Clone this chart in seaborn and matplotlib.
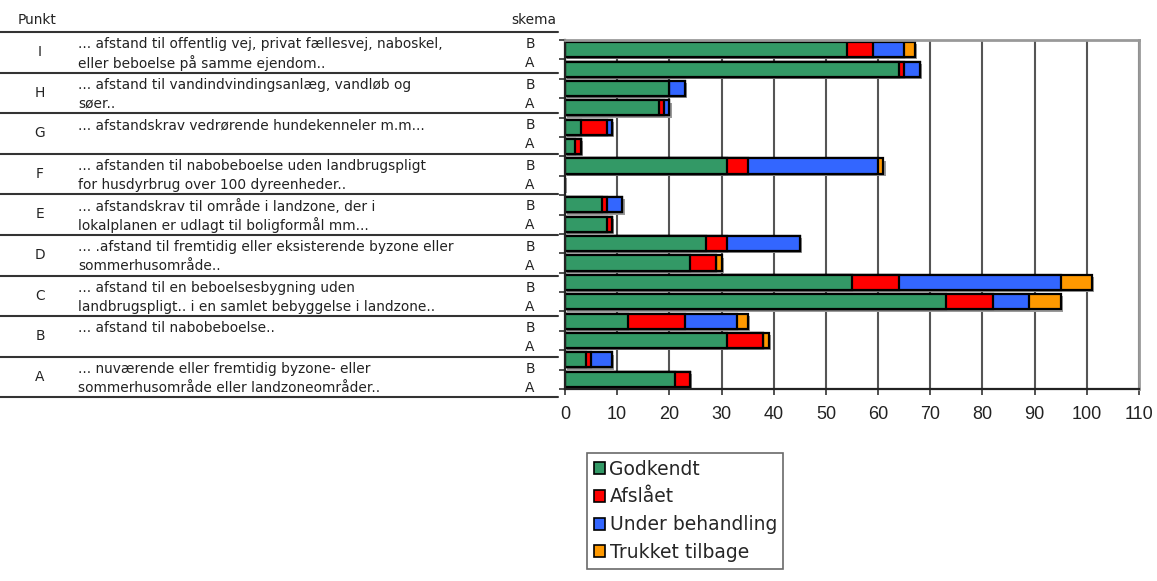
import numpy as np
import pandas as pd
import seaborn as sns
import matplotlib.pyplot as plt
import matplotlib.patheffects as pe
from matplotlib.patches import Patch

# data (bars top to bottom: I-B, I-A, H-B, H-A, ...)
punkt = ["I", "H", "G", "F", "E", "D", "C", "B", "A"]
skema = ["B", "A"]
tekst1 = [
    "... afstand til offentlig vej, privat fællesvej, naboskel,",
    "... afstand til vandindvindingsanlæg, vandløb og",
    "... afstandskrav vedrørende hundekenneler m.m...",
    "... afstanden til nabobeboelse uden landbrugspligt",
    "... afstandskrav til område i landzone, der i",
    "... .afstand til fremtidig eller eksisterende byzone eller",
    "... afstand til en beboelsesbygning uden",
    "... afstand til nabobeboelse..",
    "... nuværende eller fremtidig byzone- eller",
]
tekst2 = [
    "eller beboelse på samme ejendom..",
    "søer..",
    "",
    "for husdyrbrug over 100 dyreenheder..",
    "lokalplanen er udlagt til boligformål mm...",
    "sommerhusområde..",
    "landbrugspligt.. i en samlet bebyggelse i landzone..",
    "",
    "sommerhusområde eller landzoneområder..",
]
godkendt = [54, 64, 20, 18, 3, 2, 31, 0, 7, 8, 27, 24, 55, 73, 12, 31, 4, 21]
afslaaet = [5, 1, 0, 1, 5, 1, 4, 0, 1, 1, 4, 5, 9, 9, 11, 7, 1, 3]
under_beh = [6, 3, 3, 1, 1, 0, 25, 0, 3, 0, 14, 0, 31, 7, 10, 0, 4, 0]
trukket = [2, 0, 0, 0, 0, 0, 1, 0, 0, 0, 0, 1, 6, 6, 2, 1, 0, 0]
x_ticks = [0, 10, 20, 30, 40, 50, 60, 70, 80, 90, 100, 110]
status = ["Godkendt", "Afslået", "Under behandling", "Trukket tilbage"]
farver = ["#339966", "#ff0000", "#3366ff", "#ff9900"]

sns.set_theme(style="white")
plt.rcParams["font.family"] = ["DejaVu Sans"]

rows = [f"{p} {s}" for p in punkt for s in skema]
df = pd.DataFrame({"row": rows, "Godkendt": godkendt, "Afslået": afslaaet,
                   "Under behandling": under_beh, "Trukket tilbage": trukket})
cum = df[status].cumsum(axis=1)

fig = plt.figure(figsize=(11.57, 5.81), dpi=100)
ax = fig.add_axes([565 / 1157, 1 - 389 / 581, 574 / 1157, 349 / 581])

# stacked bars: draw the longest cumulative first, then overlay shorter ones
for i in range(len(status) - 1, -1, -1):
    n_before = len(ax.patches)
    sns.barplot(x=cum[status[i]], y=df["row"], order=rows, orient="h",
                color=farver[i], saturation=1, edgecolor="black",
                linewidth=1.6, width=0.78, ax=ax)
    if i == len(status) - 1:
        for p in ax.patches[n_before:]:
            p.set_path_effects([pe.SimplePatchShadow(offset=(1.6, -1.6), shadow_rgbFace="#9a9a9a", alpha=1),
                                pe.Normal()])

ax.set_xlim(0, 110)
ax.set_ylim(len(rows) - 0.5, -0.5)
ax.set_xticks(x_ticks, labels=[str(v) for v in x_ticks],
              fontfamily="Liberation Sans", fontsize=13, color="#222222")
ax.set_yticks(np.arange(-0.5, len(rows), 1))
ax.set_yticklabels([])
ax.set_xlabel("")
ax.set_ylabel("")
ax.set_axisbelow(True)
ax.xaxis.grid(True, color="#555555", linewidth=1.5)
ax.tick_params(axis="x", direction="out", length=4, width=1.2, color="#333333", pad=8, bottom=True)
ax.tick_params(axis="y", direction="out", length=4, width=1.2, color="#333333", left=True)
for s in ["left", "bottom"]:
    ax.spines[s].set_color("#222222")
    ax.spines[s].set_linewidth(1.6)
for s in ["top", "right"]:
    ax.spines[s].set_color("#999999")
    ax.spines[s].set_linewidth(2)

# table on the left, in pixel coordinates
tab = fig.add_axes([0, 0, 1, 1], zorder=-1)
tab.set_xlim(0, 1157)
tab.set_ylim(581, 0)
tab.axis("off")
fs = 9.9
tc = "#222222"
tab.text(18, 20, "Punkt", fontsize=fs, va="center", ha="left", color=tc)
tab.text(556, 20, "skema", fontsize=fs, va="center", ha="right", color=tc)
row_h = 40.6
top0 = 32
for k in range(len(punkt) + 1):
    tab.plot([0, 558], [top0 + k * row_h] * 2, color="#333333", lw=1.5)
for k, p in enumerate(punkt):
    y0 = top0 + k * row_h
    tab.text(40, y0 + 20, p, fontsize=fs, va="center", ha="center", color=tc)
    tab.text(78, y0 + 12, tekst1[k], fontsize=fs, va="center", ha="left", color=tc)
    tab.text(78, y0 + 31, tekst2[k], fontsize=fs, va="center", ha="left", color=tc)
    tab.text(530, y0 + 12, skema[0], fontsize=fs, va="center", ha="center", color=tc)
    tab.text(530, y0 + 31, skema[1], fontsize=fs, va="center", ha="center", color=tc)

handles = [Patch(facecolor=c, edgecolor="black", linewidth=1.2) for c in farver]
leg = fig.legend(handles, status, loc="upper left", bbox_to_anchor=(587 / 1157, 1 - 453 / 581),
                 fontsize=13.5, frameon=True, fancybox=False, edgecolor="#444444",
                 handlelength=0.6, handleheight=0.6, handletextpad=0.25,
                 labelspacing=0.47, borderpad=0.35, borderaxespad=0)
leg.get_frame().set_linewidth(1.2)

fig.savefig("out.png", dpi=100)
